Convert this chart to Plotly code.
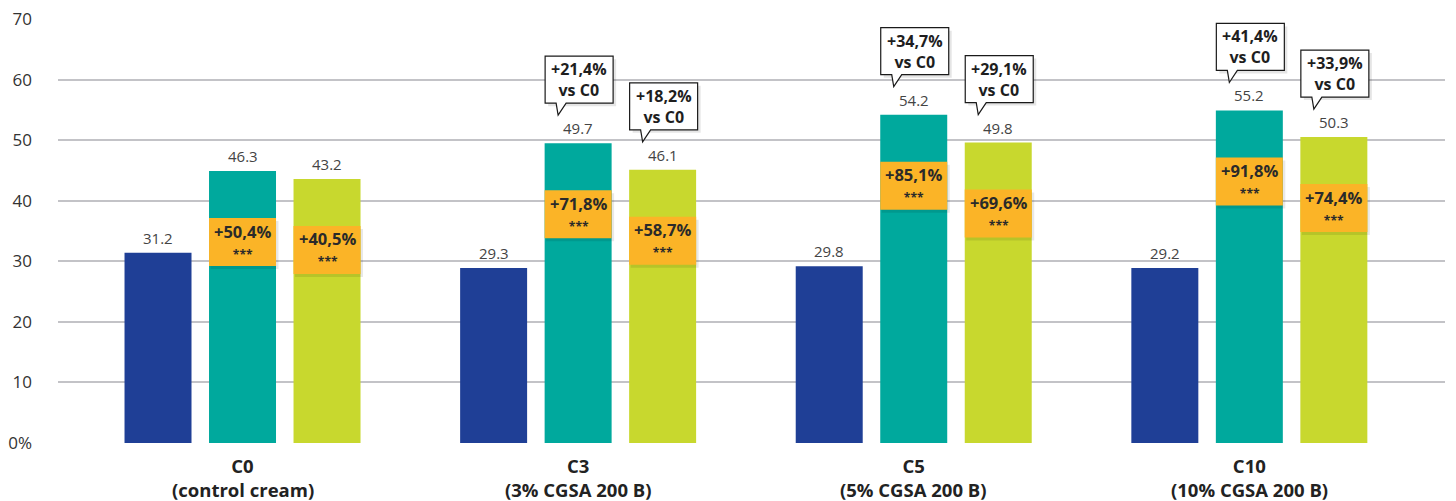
import plotly.graph_objects as go

# ---------------- data ----------------
groups = ["C0", "C3", "C5", "C10"]
group_sub = ["(control cream)", "(3% CGSA 200 B)", "(5% CGSA 200 B)", "(10% CGSA 200 B)"]

blue_vals = [31.4, 28.9, 29.2, 28.9]
teal_vals = [44.9, 49.5, 54.2, 54.9]
lime_vals = [43.6, 45.1, 49.6, 50.5]

blue_labels = ["31.2", "29.3", "29.8", "29.2"]
teal_labels = ["46.3", "49.7", "54.2", "55.2"]
lime_labels = ["43.2", "46.1", "49.8", "50.3"]

teal_gain = ["+50,4%", "+71,8%", "+85,1%", "+91,8%"]
lime_gain = ["+40,5%", "+58,7%", "+69,6%", "+74,4%"]

teal_vs_c0 = [None, "+21,4%", "+34,7%", "+41,4%"]
lime_vs_c0 = [None, "+18,2%", "+29,1%", "+33,9%"]

y_ticks = [0, 10, 20, 30, 40, 50, 60, 70]
y_ticktext = ["0%", "10", "20", "30", "40", "50", "60", "70"]

# ---------------- style ----------------
FONT = "Open Sans"
C_BLUE = "#1F3F96"
C_TEAL = "#00A99D"
C_LIME = "#C8D82E"
C_ORANGE = "#FBB427"
GRID = "#C3C3C7"
BAR_W = 0.1996
STEP = 0.2518

xs = list(range(len(groups)))
series = [
    (blue_vals, blue_labels, C_BLUE, -1),
    (teal_vals, teal_labels, C_TEAL, 0),
    (lime_vals, lime_labels, C_LIME, 1),
]

fig = go.Figure()
annotations = []
shapes = []

for vals, labels, color, k in series:
    fig.add_trace(go.Bar(
        x=xs, y=vals, width=BAR_W, offset=k * STEP - BAR_W / 2,
        marker=dict(color=color, line=dict(width=0)),
        hoverinfo="skip", showlegend=False,
    ))
    for i, (v, lab) in enumerate(zip(vals, labels)):
        annotations.append(dict(
            x=i + k * STEP, y=v, xref="x", yref="y", text=lab,
            showarrow=False, yanchor="bottom", yshift=3,
            font=dict(family=FONT, size=15, color="#444444"),
        ))

# orange gain boxes inside teal & lime bars
for vals, gains, k in [(teal_vals, teal_gain, 0), (lime_vals, lime_gain, 1)]:
    for i, (v, g) in enumerate(zip(vals, gains)):
        xc = i + k * STEP
        shapes.append(dict(
            type="rect", xref="x", yref="y", xsizemode="pixel", ysizemode="pixel",
            xanchor=xc, yanchor=v, x0=-32, x1=36, y0=-50, y1=-98,
            fillcolor="rgba(0,0,0,0.09)", line=dict(width=0), layer="above",
        ))
        shapes.append(dict(
            type="rect", xref="x", yref="y", xsizemode="pixel", ysizemode="pixel",
            xanchor=xc, yanchor=v, x0=-33.5, x1=33.5, y0=-47, y1=-95,
            fillcolor=C_ORANGE, line=dict(width=0), layer="above",
        ))
        annotations.append(dict(
            x=xc, y=v, xref="x", yref="y",
            text="<b>" + g + "</b><br><b><span style='font-size:12px'>***</span></b>",
            showarrow=False, yanchor="middle", yshift=-70,
            font=dict(family=FONT, size=16.5, color="#2A2A2A"),
        ))

# speech-bubble callouts "vs C0"
bubble = "M -33,40 L -22,40 L -20,28 L -12,40 L 35,40 L 35,87 L -33,87 Z"
bubble_sh = "M -30,37 L 38,37 L 38,84 L -30,84 Z"
for vals, calls, k in [(teal_vals, teal_vs_c0, 0), (lime_vals, lime_vs_c0, 1)]:
    for i, (v, c) in enumerate(zip(vals, calls)):
        if c is None:
            continue
        xc = i + k * STEP
        shapes.append(dict(
            type="path", xref="x", yref="y", xsizemode="pixel", ysizemode="pixel",
            xanchor=xc, yanchor=v, path=bubble_sh,
            fillcolor="rgba(0,0,0,0.10)", line=dict(width=0), layer="above",
        ))
        shapes.append(dict(
            type="path", xref="x", yref="y", xsizemode="pixel", ysizemode="pixel",
            xanchor=xc, yanchor=v, path=bubble,
            fillcolor="white", line=dict(color="#1A1A1A", width=1.2), layer="above",
        ))
        annotations.append(dict(
            x=xc, y=v, xref="x", yref="y", text="<b>" + c + "<br>vs C0</b>",
            showarrow=False, yanchor="middle", yshift=63.5, xshift=1,
            font=dict(family=FONT, size=16, color="#1E1E1E"),
        ))

# second line of the category labels
for i, s in enumerate(group_sub):
    annotations.append(dict(
        x=i, y=0, xref="x", yref="y", text="<b>" + s + "</b>",
        showarrow=False, yanchor="middle", yshift=-46,
        font=dict(family=FONT, size=18.5, color="#222222"),
    ))

fig.update_layout(
    width=1456, height=501,
    margin=dict(l=58, r=11, t=19, b=58, autoexpand=False),
    paper_bgcolor="white", plot_bgcolor="white",
    barmode="overlay",
    annotations=annotations, shapes=shapes,
    font=dict(family=FONT, color="#333333"),
    xaxis=dict(
        range=[-0.5498, 3.583],
        tickmode="array", tickvals=xs,
        ticktext=["<b>" + g + "</b>" for g in groups],
        tickfont=dict(family=FONT, size=18.5, color="#222222"),
        showgrid=False, zeroline=False, showline=False, ticks="",
        ticklabelstandoff=10, automargin=False,
    ),
    yaxis=dict(
        range=[0, 70], tickmode="array", tickvals=y_ticks, ticktext=y_ticktext,
        tickfont=dict(family=FONT, size=17, color="#333333"),
        showgrid=True, gridcolor=GRID, gridwidth=2,
        zeroline=False, showline=False, ticks="",
        ticklabelstandoff=25, automargin=False,
    ),
)

fig.write_html(
    "out.html",
    config={"displayModeBar": False},
    post_script="document.body.style.margin='0';document.body.style.padding='0';",
)
